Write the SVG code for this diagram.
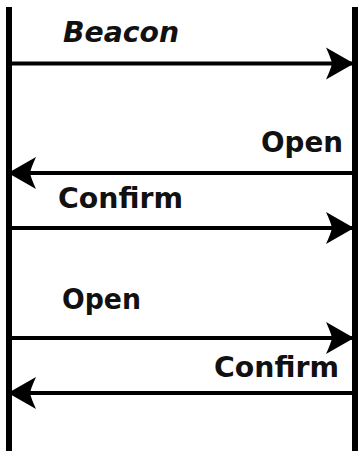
<svg xmlns="http://www.w3.org/2000/svg" width="359" height="451" viewBox="0 0 359 451">
  <style>
    .life { stroke: #000; stroke-width: 6; fill: none; }
    .msg { stroke: #000; stroke-width: 4; fill: none; marker-end: url(#head); }
    .lbl { font-family: "DejaVu Sans", "Liberation Sans", sans-serif; font-size: 28px; font-weight: bold; fill: #111; }
    .it { font-style: italic; }
  </style>
  <defs>
    <marker id="head" markerUnits="userSpaceOnUse" viewBox="-28 -17 30 34" refX="0" refY="0" markerWidth="30" markerHeight="34" orient="auto" overflow="visible">
      <path d="M1,0 L-27,-16 Q-22,-5 -21,0 Q-22,5 -27,16 Z" fill="#000"/>
    </marker>
  </defs>
  <rect width="359" height="451" fill="#fff"/>
  <g id="nodeA">
    <line class="life" x1="9" y1="7" x2="9" y2="451"/>
  </g>
  <g id="nodeB">
    <line class="life" x1="355" y1="7" x2="355" y2="451"/>
  </g>
  <g id="connectors">
    <line class="msg" x1="12" y1="63.5" x2="353" y2="63.5"/>
    <line class="msg" x1="352" y1="173" x2="9" y2="173"/>
    <line class="msg" x1="12" y1="228" x2="353" y2="228"/>
    <line class="msg" x1="12" y1="338" x2="353" y2="338"/>
    <line class="msg" x1="352" y1="393" x2="9" y2="393"/>
  </g>
  <g id="labels">
    <text class="lbl it" x="63" y="42" textLength="116" lengthAdjust="spacingAndGlyphs">Beacon</text>
    <text class="lbl" x="261" y="152" textLength="82" lengthAdjust="spacingAndGlyphs">Open</text>
    <text class="lbl" x="58" y="208" textLength="125" lengthAdjust="spacingAndGlyphs">Confirm</text>
    <text class="lbl" x="62" y="309" textLength="79" lengthAdjust="spacingAndGlyphs">Open</text>
    <text class="lbl" x="214" y="377" textLength="125" lengthAdjust="spacingAndGlyphs">Confirm</text>
  </g>
</svg>
